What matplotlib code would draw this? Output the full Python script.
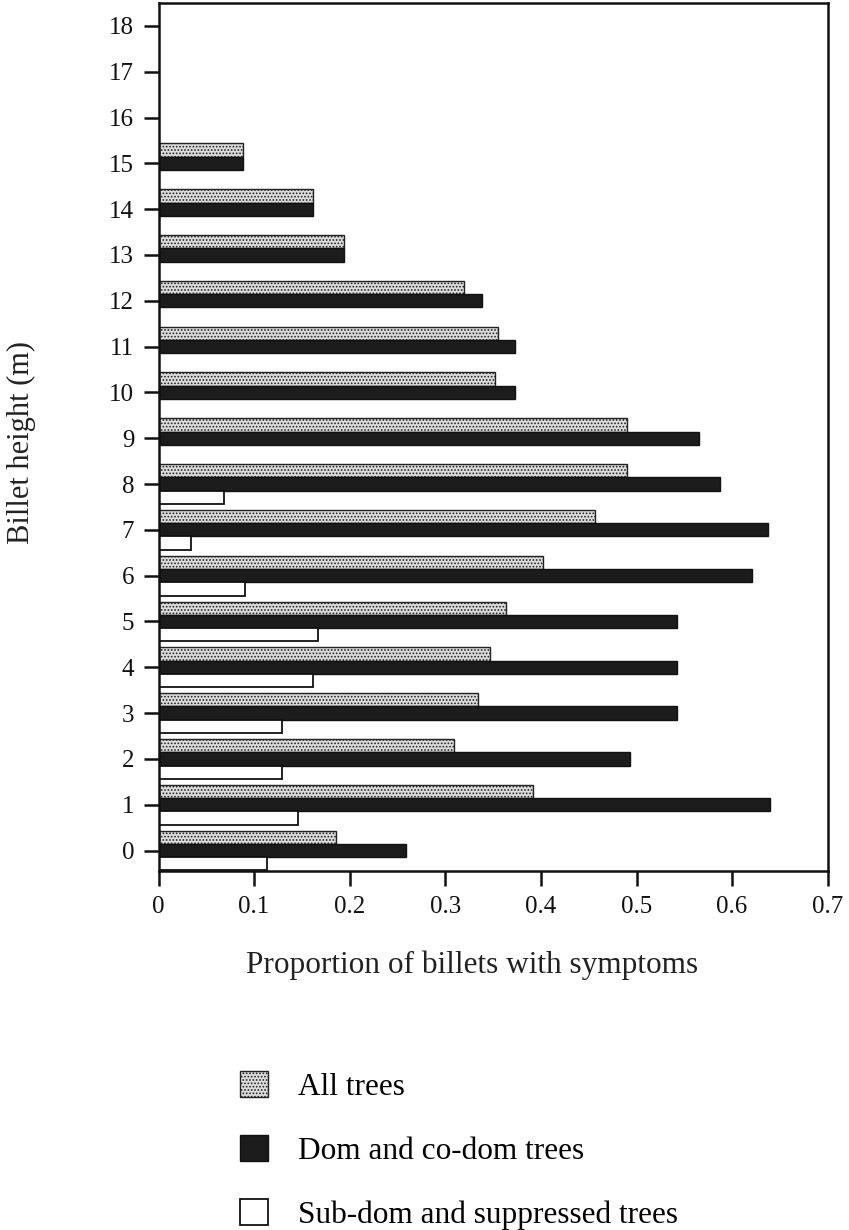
import matplotlib
matplotlib.use("Agg")
import matplotlib.pyplot as plt
import numpy as np

plt.rcParams['font.family'] = ['Liberation Serif', 'DejaVu Serif']
plt.rcParams['hatch.linewidth'] = 0.8

heights = list(range(0, 16))
all_trees = [0.186, 0.392, 0.309, 0.334, 0.347, 0.364, 0.402, 0.457,
             0.490, 0.490, 0.352, 0.355, 0.320, 0.194, 0.162, 0.088]
dom_trees = [0.259, 0.640, 0.493, 0.542, 0.542, 0.542, 0.621, 0.638,
             0.587, 0.565, 0.373, 0.373, 0.338, 0.194, 0.162, 0.088]
sub_heights = list(range(0, 9))
sub_trees = [0.113, 0.146, 0.129, 0.129, 0.162, 0.167, 0.090, 0.034, 0.068]

labels = ["All trees", "Dom and co-dom trees", "Sub-dom and suppressed trees"]
xticks = [0, 0.1, 0.2, 0.3, 0.4, 0.5, 0.6, 0.7]
xticklabels = ["0", "0.1", "0.2", "0.3", "0.4", "0.5", "0.6", "0.7"]
yticks = list(range(0, 19))

W, H = 849, 1230
fig = plt.figure(figsize=(W / 100, H / 100), dpi=100)
ax_l, ax_r, ax_t, ax_b = 158.5, 827.7, 3.0, 870.7
ax = fig.add_axes([ax_l / W, 1 - ax_b / H, (ax_r - ax_l) / W, (ax_b - ax_t) / H])

bh = 0.29
y = np.array(heights, dtype=float)
ys = np.array(sub_heights, dtype=float)
b1 = ax.barh(y + bh, all_trees, height=bh, color='#dcdcdc', edgecolor='#222222',
             hatch='.....', linewidth=1.0, label=labels[0])
b2 = ax.barh(y, dom_trees, height=bh, color='#1c1c1c', edgecolor='#111111',
             linewidth=1.0, label=labels[1])
b3 = ax.barh(ys - bh, sub_trees, height=bh, color='white', edgecolor='#111111',
             linewidth=1.3, label=labels[2])

ax.set_xlim(0, 0.7)
ax.set_ylim(-0.44, 18.5)
ax.set_xticks(xticks)
ax.set_xticklabels(xticklabels)
ax.set_yticks(yticks)
ax.set_yticklabels([str(t) for t in yticks])
ax.tick_params(axis='both', direction='out', length=10.5, width=1.8, labelsize=18,
               colors='#111111')
ax.tick_params(axis='x', pad=8)
ax.tick_params(axis='y', pad=7)
for s in ax.spines.values():
    s.set_linewidth(1.8)
    s.set_color('#111111')

axw, axh = ax_r - ax_l, ax_b - ax_t
ax.set_xlabel("Proportion of billets with symptoms", fontsize=22.5, color='#222222')
ax.xaxis.label.set_va('center')
ax.xaxis.set_label_coords((472 - ax_l) / axw, -(965 - ax_b) / axh)
ax.set_ylabel("Billet height (m)", fontsize=22, color='#222222')
ax.yaxis.label.set_va('center')
ax.yaxis.set_label_coords((21 - ax_l) / axw, (ax_b - 443) / axh)

fig.legend(handles=[b1, b2, b3], labels=labels, loc='upper left',
           bbox_to_anchor=(240 / W, 1 - 1071 / H), frameon=False,
           fontsize=22.5, handlelength=0.9, handleheight=0.9, handletextpad=0.96,
           labelspacing=1.06, borderaxespad=0, borderpad=0)

fig.savefig("out.png", dpi=100)
